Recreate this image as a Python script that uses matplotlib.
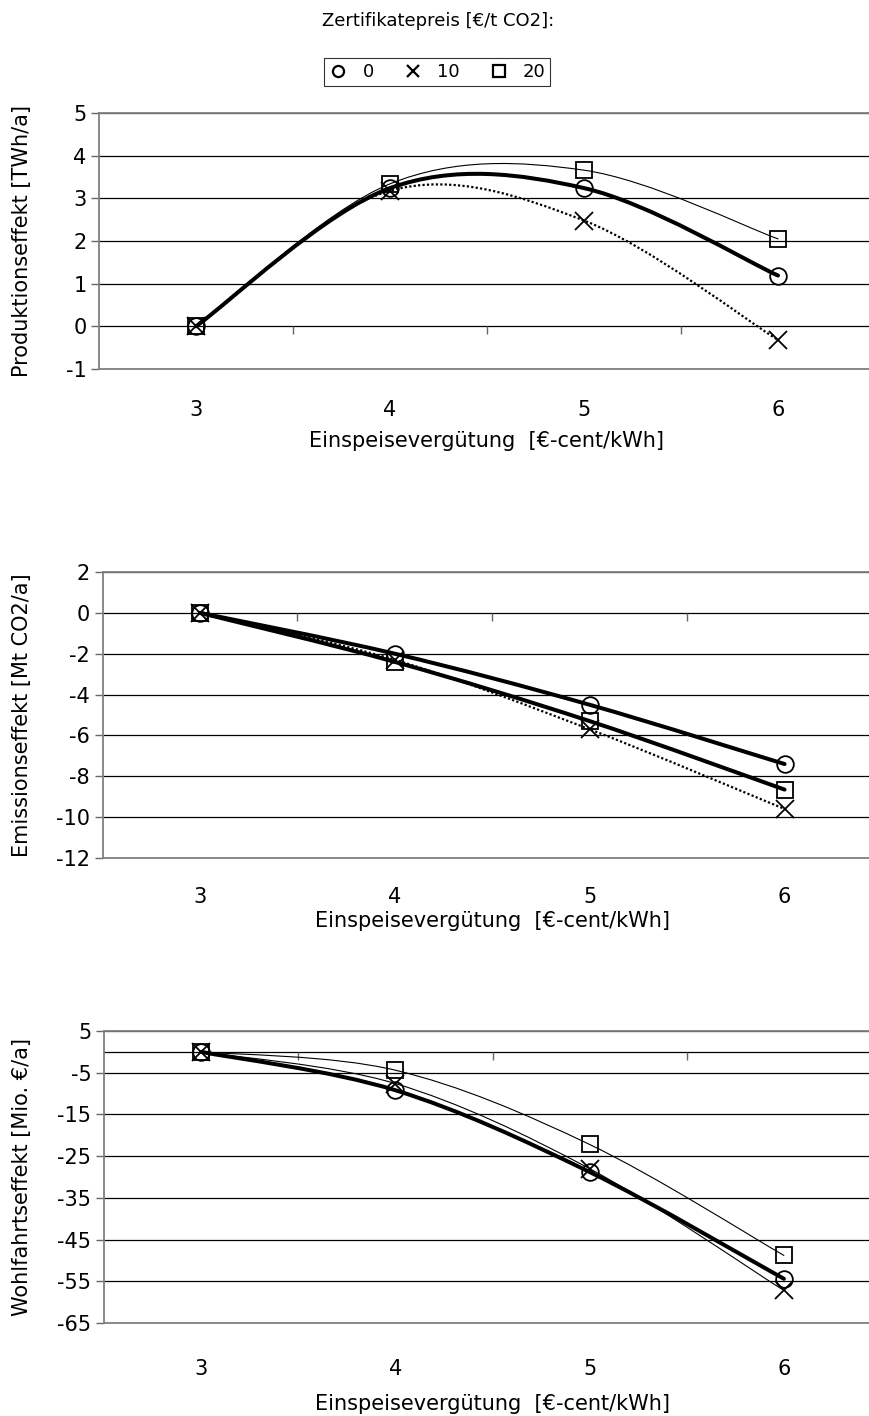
import numpy as np
import matplotlib
matplotlib.use("Agg")
import matplotlib.pyplot as plt
from matplotlib.path import Path
from matplotlib.patches import PathPatch
from matplotlib.lines import Line2D

plt.rcParams['font.family'] = ['DejaVu Sans']

# data
categories = [3, 4, 5, 6]
price_labels = ['0', '10', '20']
prod_0 = [0, 3.24, 3.24, 1.19]
prod_10 = [0, 3.18, 2.48, -0.32]
prod_20 = [0, 3.34, 3.66, 2.05]
emis_0 = [0, -2.0, -4.5, -7.4]
emis_10 = [0, -2.3, -5.7, -9.6]
emis_20 = [0, -2.4, -5.3, -8.65]
wohl_0 = [0, -9.2, -28.8, -54.4]
wohl_10 = [0, -7.6, -28.0, -57.2]
wohl_20 = [0, -4.4, -22.2, -48.8]

W, H = 869, 1416
markers = ['o', 'x', 's']
msizes = {'o': 12, 'x': 13, 's': 12}
thick = dict(lw=2.9, ls='-', capstyle='round')
thin = dict(lw=0.8, ls='-', capstyle='round')
dotted = dict(lw=1.6, ls=(0, (1, 1)), capstyle='butt')

fs = 15


def smooth_path(x, y):
    # excel-like smoothed line: cubic bezier through the points
    pts = np.column_stack([x, y]).astype(float)
    n = len(pts)
    verts = [pts[0]]
    codes = [Path.MOVETO]
    for i in range(n - 1):
        p0 = pts[max(i - 1, 0)]
        p1 = pts[i]
        p2 = pts[i + 1]
        p3 = pts[min(i + 2, n - 1)]
        verts += [p1 + (p2 - p0) / 6, p2 - (p3 - p1) / 6, p2]
        codes += [Path.CURVE4] * 3
    return Path(verts, codes)


def px_axes(fig, l, t, r, b):
    return fig.add_axes([l / W, 1 - b / H, (r - l) / W, (b - t) / H])


def panel(ax, series, styles, ylim, yticks, ylabel, gridvals, tickpad, labelpad):
    ax.set_xlim(2.5, 6.5)
    ax.set_ylim(*ylim)
    for g in gridvals:
        ax.axhline(g, color='black', lw=0.9, zorder=1)
    for ys, st, m in zip(series, styles, markers):
        ax.add_patch(PathPatch(smooth_path(categories, ys), fill=False,
                               color='black', zorder=3, **st))
        ax.plot(categories, ys, ls='none', marker=m, ms=msizes[m],
                mfc='none', mec='black', mew=1.3, zorder=4)
    # axis line at zero with tick marks between categories
    mids = [(a + b) / 2 for a, b in zip(categories[:-1], categories[1:])]
    ax.plot(mids, [0] * len(mids), ls='none', marker=3, ms=6, mew=1.0,
            color='#666666', zorder=2)
    ax.set_xticks(categories)
    ax.set_xticklabels([str(c) for c in categories], fontsize=fs)
    ax.tick_params(axis='x', length=0, pad=tickpad)
    ax.set_yticks(yticks)
    ax.set_yticklabels([str(v) for v in yticks], fontsize=fs)
    ax.tick_params(axis='y', length=6, width=1.0, color='#666666', pad=3)
    for s in ['left', 'top', 'bottom']:
        ax.spines[s].set_color('#808080')
        ax.spines[s].set_linewidth(1.3)
    ax.spines['right'].set_visible(False)
    ax.set_xlabel('Einspeisevergütung  [€-cent/kWh]', fontsize=fs, labelpad=labelpad)
    ax.set_ylabel(ylabel, fontsize=fs)
    pos = ax.get_position()
    ax.yaxis.set_label_coords((32 / W - pos.x0) / pos.width, 0.5)


fig = plt.figure(figsize=(W / 100, H / 100), dpi=100)

ax1 = px_axes(fig, 99, 113, 875, 369)
panel(ax1, [prod_0, prod_10, prod_20], [thick, dotted, thin], (-1, 5),
      list(range(-1, 6)), 'Produktionseffekt [TWh/a]', range(-1, 6), 22, 8)

ax2 = px_axes(fig, 102.5, 572, 882, 858)
panel(ax2, [emis_0, emis_10, emis_20], [thick, dotted, thick], (-12, 2),
      list(range(-12, 3, 2)), 'Emissionseffekt [Mt CO2/a]', range(-12, 3, 2), 21, 3)

ax3 = px_axes(fig, 104, 1031, 881, 1323)
wticks = list(range(-65, 6, 10))
panel(ax3, [wohl_0, wohl_10, wohl_20], [thick, thin, thin], (-65, 5),
      wticks, 'Wohlfahrtseffekt [Mio. €/a]', wticks + [0], 26, 11)

fig.text(438 / W, 1 - 21 / H, 'Zertifikatepreis [€/t CO2]:', fontsize=13,
         ha='center', va='center')

handles = [Line2D([], [], ls='none', marker=m, ms=8, mfc='none', mec='black', mew=1.6)
           for m in markers]
leg = fig.legend(handles, price_labels, ncol=3, loc='center',
                 bbox_to_anchor=(437 / W, 1 - 72 / H), fontsize=13, frameon=True,
                 fancybox=False, edgecolor='black', handlelength=1.1,
                 handletextpad=0.8, columnspacing=1.6, borderpad=0.25,
                 borderaxespad=0)
leg.get_frame().set_linewidth(0.8)

fig.savefig('out.png', dpi=100)
